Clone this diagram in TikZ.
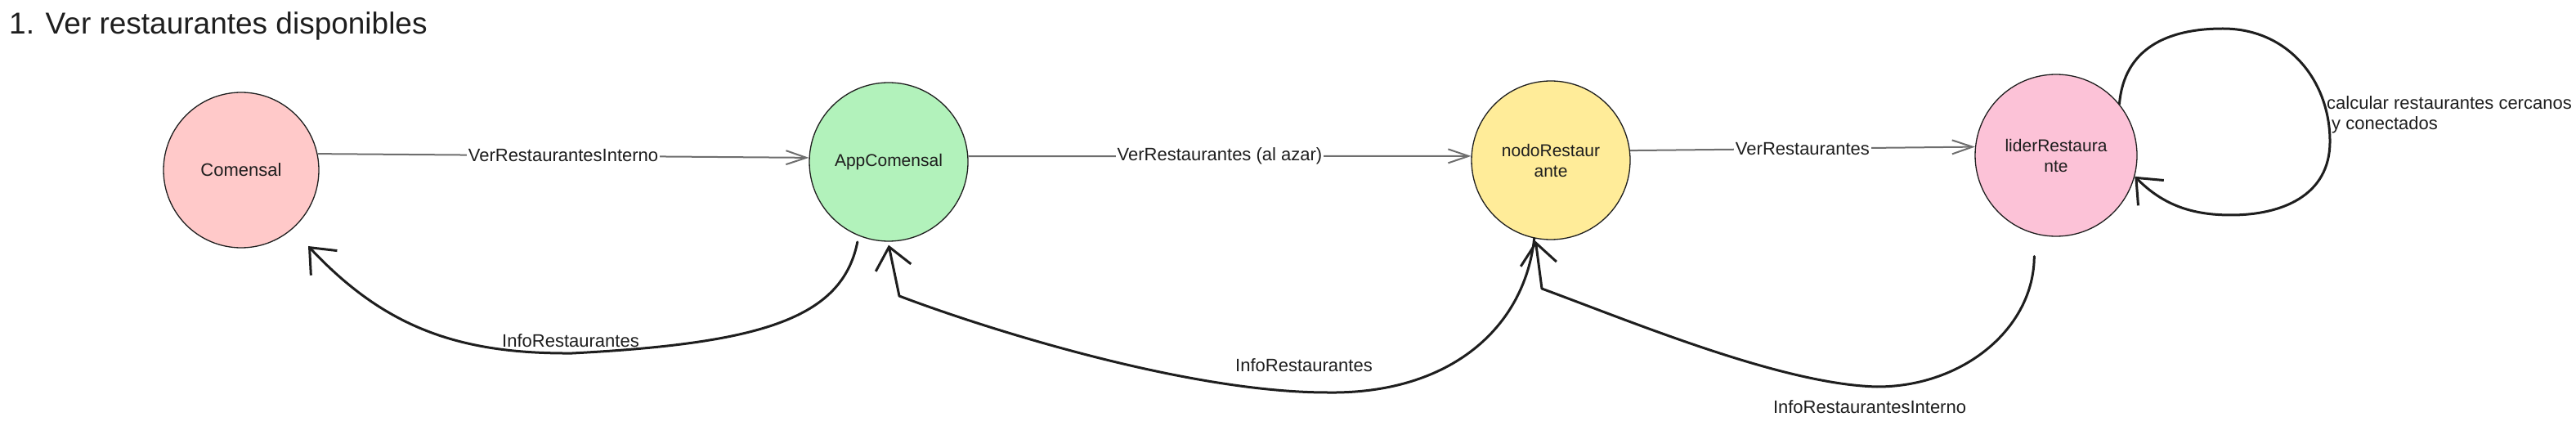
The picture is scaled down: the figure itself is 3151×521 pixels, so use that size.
\documentclass[tikz,border=0pt]{standalone}
\usepackage{fontspec}
\setmainfont{Liberation Sans}
\usetikzlibrary{arrows.meta,calc}
\definecolor{ink}{HTML}{1E1E1E}
\definecolor{cpink}{HTML}{FFC9C9}
\definecolor{cgreen}{HTML}{B2F2BB}
\definecolor{cyellow}{HTML}{FFEC99}
\definecolor{crose}{HTML}{FCC2D7}
\definecolor{fwd}{HTML}{6E6E6E}
\begin{document}
\begin{tikzpicture}[x=1pt,y=-1pt,
  actor/.style={circle, draw=ink, line width=1.3pt, inner sep=0pt, align=center,
    font=\fontsize{21}{25}\selectfont, text=ink},
  fwdarrow/.style={draw=fwd, line width=2pt, -{Straight Barb[length=25pt,width=17pt]}},
  retarrow/.style={draw=ink, line width=3pt, line cap=round, line join=round,
    -{Straight Barb[length=26pt,width=44pt]}},
  elabel/.style={font=\fontsize{22}{25}\selectfont, text=ink, inner sep=2pt},
]
\useasboundingbox (0,0) rectangle (3151,521);

% title
\node[anchor=base west, font=\fontsize{37}{44}\selectfont, text=ink, inner sep=0pt] (title) at (11,42) {1. Ver restaurantes disponibles};

% actors
\node[actor, fill=cpink, minimum size=190pt, font=\fontsize{22}{25}\selectfont] (com) at (295,208) {Comensal};
\node[actor, fill=cgreen, minimum size=194pt] (app) at (1087,198) {AppComensal};
\node[actor, fill=cyellow, minimum size=194pt] (nodo) at (1897,196) {nodoRestaur\\ante};
\node[actor, fill=crose, minimum size=198pt] (lider) at (2515,190) {liderRestaura\\nte};

% forward requests
\draw[fwdarrow] (com.12) -- node[elabel, fill=white] (l1) {VerRestaurantesInterno} (app.177);
\draw[fwdarrow] (app.4) -- node[elabel, fill=white] (l2) {VerRestaurantes (al azar)} (nodo.177);
\draw[fwdarrow] (nodo.7) -- node[elabel, fill=white] (l3) {VerRestaurantes} (lider.174);

% self loop
\draw[retarrow] (lider.39) .. controls (2598,60) and (2650,35) .. (2719,35)
  .. controls (2800,35) and (2850,100) .. (2850,173)
  .. controls (2850,240) and (2790,263) .. (2729,263)
  .. controls (2680,263) and (2645,250) .. (lider.345);
\node[elabel, anchor=west, align=left] (l7) at (2844,140) {calcular restaurantes cercanos\\\hspace*{6pt}y conectados};

% return answers
\coordinate (t1) at ($(com.center)+(82,93)$);
\draw[retarrow] ($(app.247)+(0,8)$) .. controls (1030,390) and (930,420) .. (700,432)
  .. controls (560,433) and (470,400) .. (t1);
\node[elabel] (l4) at (698,417) {InfoRestaurantes};

\coordinate (t2) at ($(app.270)+(0,4)$);
\draw[retarrow] (nodo.258) .. controls (1865,400) and (1775,482) .. (1624,480)
  .. controls (1450,480) and (1200,400) .. (1100,362) -- (t2);
\node[elabel] (l5) at (1595,447) {InfoRestaurantes};

\coordinate (s3) at ($(lider.258)+(-6,26)$);
\coordinate (t3) at ($(nodo.259)+(0,3)$);
\draw[retarrow] (s3) .. controls (2488,401) and (2402,473) .. (2296,473)
  .. controls (2180,470) and (2000,395) .. (1886,353) -- (t3);
\node[elabel] (l6) at (2287,498) {InfoRestaurantesInterno};
\end{tikzpicture}
\end{document}
